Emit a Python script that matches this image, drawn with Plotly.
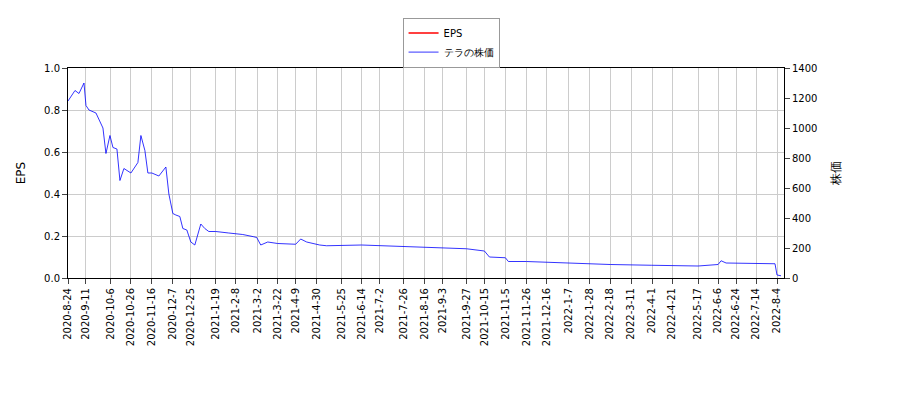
import plotly.graph_objects as go

# price readings (date, yen)
dates = ["2020-08-24", "2020-08-31", "2020-09-04", "2020-09-09", "2020-09-11", "2020-09-14",
         "2020-09-21", "2020-09-28", "2020-10-01", "2020-10-05", "2020-10-08", "2020-10-12",
         "2020-10-15", "2020-10-19", "2020-10-26", "2020-11-02", "2020-11-05", "2020-11-09",
         "2020-11-12", "2020-11-16", "2020-11-23", "2020-11-30", "2020-12-03", "2020-12-07",
         "2020-12-10", "2020-12-14", "2020-12-17", "2020-12-21", "2020-12-25", "2020-12-29",
         "2021-01-04", "2021-01-08", "2021-01-12", "2021-01-19", "2021-02-01", "2021-02-15",
         "2021-02-26", "2021-03-01", "2021-03-05", "2021-03-12", "2021-03-22", "2021-04-09",
         "2021-04-14", "2021-04-20", "2021-05-03", "2021-05-10", "2021-06-14", "2021-07-26",
         "2021-08-16", "2021-09-27", "2021-10-15", "2021-10-20", "2021-11-05", "2021-11-08",
         "2021-11-26", "2021-12-16", "2022-01-07", "2022-02-18", "2022-03-31", "2022-04-21",
         "2022-05-17", "2022-06-06", "2022-06-09", "2022-06-14", "2022-07-14", "2022-07-29",
         "2022-08-02", "2022-08-04", "2022-08-08"]
price = [1180, 1250, 1230, 1300, 1150, 1120,
         1100, 1000, 830, 950, 870, 860,
         650, 730, 700, 770, 950, 850,
         700, 700, 680, 740, 560, 430,
         420, 410, 330, 320, 240, 220,
         360, 330, 310, 310, 300, 290,
         275, 270, 220, 240, 230, 225,
         260, 240, 220, 215, 220, 210,
         200, 195, 180, 140, 135, 110,
         110, 105, 100, 90, 85, 85,
         80, 90, 115, 100, 100, 100,
         95, 20, 15]

tick_dates = ["2020-08-24", "2020-09-11", "2020-10-06", "2020-10-26", "2020-11-16", "2020-12-07",
              "2020-12-25", "2021-01-19", "2021-02-08", "2021-03-02", "2021-03-22", "2021-04-09",
              "2021-04-30", "2021-05-25", "2021-06-14", "2021-07-02", "2021-07-26", "2021-08-16",
              "2021-09-03", "2021-09-27", "2021-10-15", "2021-11-05", "2021-11-26", "2021-12-16",
              "2022-01-07", "2022-01-28", "2022-02-18", "2022-03-11", "2022-04-01", "2022-04-21",
              "2022-05-17", "2022-06-06", "2022-06-24", "2022-07-14", "2022-08-04"]
tick_text = [d[:4] + "-" + str(int(d[5:7])) + "-" + str(int(d[8:])) for d in tick_dates]

fig = go.Figure()
fig.add_trace(go.Scatter(x=[None], y=[None], mode="lines", name="EPS",
                         line=dict(color="red", width=1.5)))
fig.add_trace(go.Scatter(x=dates, y=price, mode="lines", name="テラの株価",
                         line=dict(color="blue", width=0.8), yaxis="y2"))

grid = dict(showgrid=True, gridcolor="#cccccc", showline=True, linecolor="black",
            mirror=True, ticks="outside", zeroline=False)
fig.update_layout(
    width=900, height=400, plot_bgcolor="white", paper_bgcolor="white",
    font=dict(family="DejaVu Sans", size=10, color="black"),
    margin=dict(l=60, r=124, t=60, b=130, autoexpand=False),
    xaxis=dict(**grid, type="date", tickvals=tick_dates, ticktext=tick_text,
               tickangle=-90, range=["2020-08-24", "2022-08-11"]),
    yaxis=dict(**grid, title="EPS", range=[0, 1.0], dtick=0.2, tickformat=".1f"),
    yaxis2=dict(overlaying="y", side="right", range=[0, 1400], dtick=200,
                showgrid=False, ticks="outside", title="株価", showline=True, linecolor="black"),
    legend=dict(x=0.535, xanchor="center", y=1.24, yanchor="top",
                bordercolor="#999999", borderwidth=1, tracegroupgap=0,
                font=dict(size=10)),
    showlegend=True,
)
fig.write_html("out.html")
